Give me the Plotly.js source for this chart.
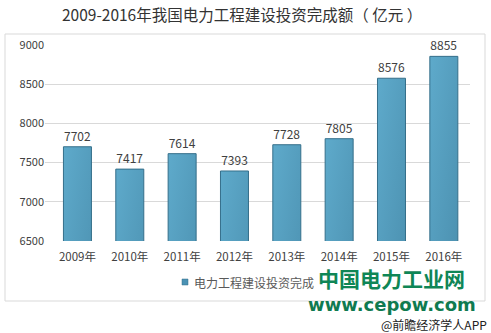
<!DOCTYPE html>
<html><head><meta charset="utf-8">
<script src="https://cdn.plot.ly/plotly-3.0.1.min.js"></script>
<style>body{margin:0;background:#fff}#c{width:491px;height:333px}</style>
</head><body><div id="c"></div>
<script>
const years = ['2009年','2010年','2011年','2012年','2013年','2014年','2015年','2016年'];
const values = [7702, 7417, 7614, 7393, 7728, 7805, 8576, 8855];
const seriesName = '电力工程建设投资完成';
const yTicks = [6500, 7000, 7500, 8000, 8500, 9000];

const font = 'Noto Sans CJK SC, sans-serif';
const trace = {
  type: 'bar', x: years, y: values, name: seriesName,
  text: values.map(String), textposition: 'outside', cliponaxis: false,
  textfont: {family: font, size: 12, color: '#404040'},
  marker: {color: '#4b92b4', line: {color: '#356f8a', width: 1}},
  width: 0.535, showlegend: false
};
// paper coords: plot area x 45..470, y 45..241
const px = v => (v - 45) / 425;
const py = v => (241 - v) / 196;
const layout = {
  width: 491, height: 333,
  margin: {l: 45, r: 21, t: 45, b: 92},
  paper_bgcolor: '#fff', plot_bgcolor: '#fff',
  title: {text: '2009-2016年我国电力工程建设投资完成额（ 亿元 ）', x: 0.493, xanchor: 'center', y: 0.952, yanchor: 'middle',
    font: {family: font, size: 15.5, color: '#333'}},
  xaxis: {range: [-0.62, 7.5], showgrid: false, ticks: '', showline: false, zeroline: false,
    ticklabelstandoff: 7, tickfont: {family: font, size: 11.5, color: '#404040'}},
  yaxis: {range: [6500, 9000], tickvals: yTicks, gridcolor: '#d9d9d9', showline: false, zeroline: false,
    tickfont: {family: font, size: 11, color: '#404040'}},
  showlegend: false,
  shapes: [
    {type: 'rect', xref: 'paper', yref: 'paper', x0: px(5), x1: px(485), y0: py(301), y1: py(34),
      line: {color: '#d9d9d9', width: 1}, layer: 'below'},
    {type: 'rect', xref: 'paper', yref: 'paper', x0: px(182), x1: px(188), y0: py(285), y1: py(279),
      fillcolor: '#4b92b4', line: {color: '#356f8a', width: 0.5}}
  ],
  annotations: [
    {text: seriesName, xref: 'paper', yref: 'paper', x: px(192), y: py(282), xanchor: 'left', yanchor: 'middle',
      showarrow: false, font: {family: font, size: 12, color: '#595959'}},
    {text: '<b>中国电力工业网</b>', xref: 'paper', yref: 'paper', x: px(391), y: py(278), xanchor: 'center', yanchor: 'middle',
      showarrow: false, font: {family: font, size: 21, color: '#0f8656'}},
    {text: '<b>www.cepow.com</b>', xref: 'paper', yref: 'paper', x: px(392), y: py(304), xanchor: 'center', yanchor: 'middle',
      showarrow: false, font: {family: 'DejaVu Sans, sans-serif', size: 18, color: '#0f7a50'}},
    {text: '@前瞻经济学人APP', xref: 'paper', yref: 'paper', x: px(434), y: py(324), xanchor: 'center', yanchor: 'middle',
      showarrow: false, font: {family: font, size: 12, color: '#222'}}
  ]
};
Plotly.newPlot('c', [trace], layout, {displayModeBar: false, staticPlot: true}).then(gd => {
  const svg = gd.querySelector('.main-svg');
  const ns = 'http://www.w3.org/2000/svg';
  let defs = svg.querySelector('defs');
  const g = document.createElementNS(ns, 'linearGradient');
  g.setAttribute('id', 'barGrad');
  g.setAttribute('x1', '0'); g.setAttribute('y1', '0'); g.setAttribute('x2', '0.3'); g.setAttribute('y2', '1');
  [['0', '#5eaacb'], ['1', '#3d7c9a']].forEach(([o, c]) => {
    const s = document.createElementNS(ns, 'stop');
    s.setAttribute('offset', o); s.setAttribute('stop-color', c); g.appendChild(s);
  });
  defs.appendChild(g);
  gd.querySelectorAll('.bars .point path').forEach(p => { p.style.fill = 'url(#barGrad)'; });
});
</script></body></html>
